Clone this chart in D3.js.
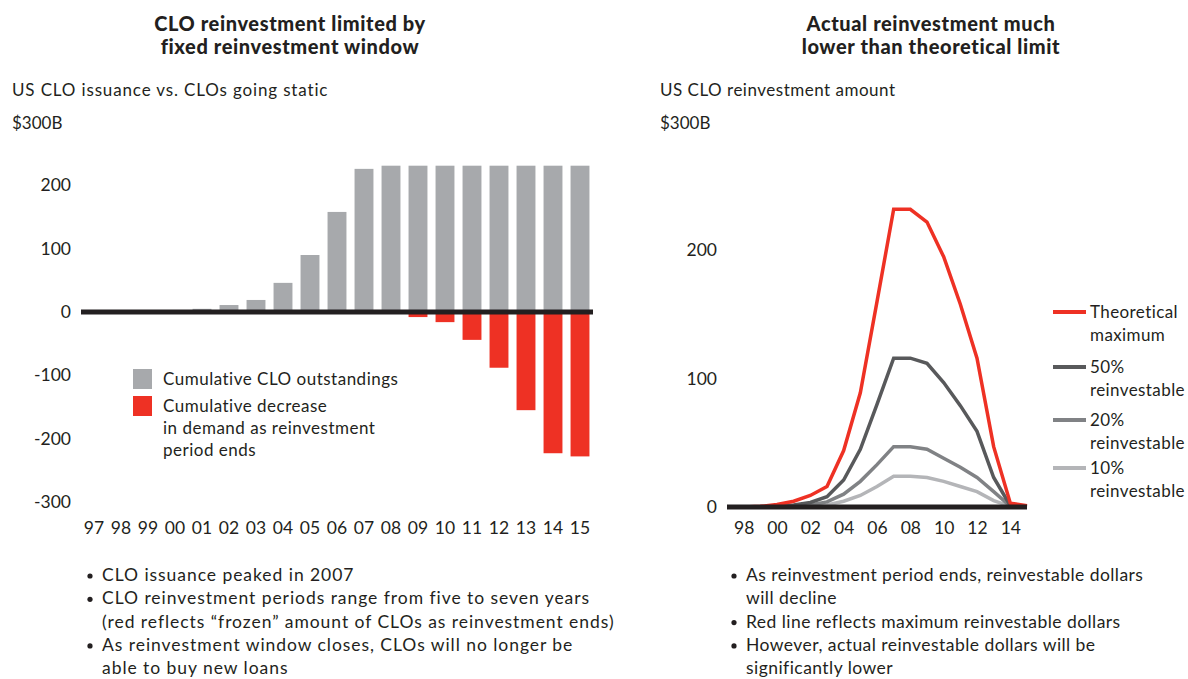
<!DOCTYPE html>
<html>
<head>
<meta charset="utf-8">
<script src="https://cdn.jsdelivr.net/npm/d3@7"></script>
<style>
  body { margin: 0; background: #fff; }
  svg { font-family: Lato, "Open Sans", sans-serif; fill: #231f20; }
  .tick line, .domain { display: none; }
</style>
</head>
<body>
<svg id="chart" width="1188" height="679"></svg>
<script>
// Left panel data
const years = ['97','98','99','00','01','02','03','04','05','06','07','08','09','10','11','12','13','14','15'];
const outstanding = [0, 0, 0, 0, 5, 11, 19, 46, 90, 158, 226, 231, 231, 231, 231, 231, 231, 231, 231];
const decrease = [0, 0, 0, 0, 0, 0, 0, 0, 0, 0, 0, 0, -8, -16, -44, -88, -155, -223, -228];
const leftTicks = [200, 100, 0, -100, -200, -300];

// Right panel data
const theoretical = [0, 0, 0.5, 2, 4.5, 9, 16, 44, 89, 160, 232, 232, 222, 195, 158, 116, 47, 3, 1];
const reinvest50 = [0, 0, 0, 0.5, 1.5, 3.5, 8, 21, 45, 80, 116, 116, 112, 97, 79, 59, 23, 1, 0];
const reinvest20 = [0, 0, 0, 0, 0.5, 1.5, 4, 10, 20, 33, 47, 47, 45, 38, 31, 23, 12, 0.5, 0];
const reinvest10 = [0, 0, 0, 0, 0, 0.5, 1.5, 4.5, 9, 16, 24, 24, 23, 20, 16, 12, 5, 0.5, 0];
const rightTicks = [200, 100, 0];
const rightLabels = ['98','00','02','04','06','08','10','12','14'];

const lineSeries = [
  { name: ['Theoretical', 'maximum'], values: theoretical, color: '#ee3124' },
  { name: ['50%', 'reinvestable'], values: reinvest50, color: '#58595b' },
  { name: ['20%', 'reinvestable'], values: reinvest20, color: '#808285' },
  { name: ['10%', 'reinvestable'], values: reinvest10, color: '#b4b5b8' }
];

const leftBullets = [
  ['CLO issuance peaked in 2007'],
  ['CLO reinvestment periods range from five to seven years',
   '(red reflects \u201cfrozen\u201d amount of CLOs as reinvestment ends)'],
  ['As reinvestment window closes, CLOs will no longer be',
   'able to buy new loans']
];
const rightBullets = [
  ['As reinvestment period ends, reinvestable dollars', 'will decline'],
  ['Red line reflects maximum reinvestable dollars'],
  ['However, actual reinvestable dollars will be', 'significantly lower']
];

const svg = d3.select('#chart');
const textColor = '#231f20';

function title(x, lines) {
  svg.append('text')
    .attr('x', x).attr('y', 31)
    .attr('text-anchor', 'middle')
    .style('font-size', '20px').style('font-weight', 900)
    .style('letter-spacing', '0.6px')
    .selectAll('tspan').data(lines).join('tspan')
    .attr('x', x).attr('dy', (d, i) => i ? 23 : 0)
    .text(d => d);
}

function bullets(x, y0, items, spacing) {
  let y = y0;
  items.forEach(lines => {
    svg.append('circle').attr('cx', x).attr('cy', y - 5).attr('r', 2.6).attr('fill', textColor);
    lines.forEach(line => {
      svg.append('text').attr('x', x + 12).attr('y', y)
        .style('font-size', '17.5px').style('letter-spacing', spacing + 'px').text(line);
      y += 23.3;
    });
  });
}

const tickFmt = d => String(d);

// ---------- Left chart ----------
title(290, ['CLO reinvestment limited by', 'fixed reinvestment window']);
svg.append('text').attr('x', 12).attr('y', 96).style('font-size', '17px')
  .style('letter-spacing', '0.85px')
  .text('US CLO issuance vs. CLOs going static');

const xL = d3.scaleBand().domain(years).range([80.5, 593.5])
  .paddingInner(0.3).paddingOuter(0.15);
const yL = d3.scaleLinear().domain([-300, 300]).range([502, 122]);

svg.append('text').attr('x', 12).attr('y', yL(300) + 7).style('font-size', '17px').text('$300B');

svg.append('g')
  .attr('transform', 'translate(71,0)')
  .call(d3.axisLeft(yL).tickValues(leftTicks).tickFormat(tickFmt).tickSize(0).tickPadding(0))
  .call(g => g.selectAll('text').style('font-size', '17.5px').attr('fill', textColor)
    .attr('font-family', 'Lato, sans-serif'));

svg.append('g').selectAll('rect').data(outstanding).join('rect')
  .attr('x', (d, i) => xL(years[i]))
  .attr('width', xL.bandwidth())
  .attr('y', d => yL(d))
  .attr('height', d => yL(0) - yL(d))
  .attr('fill', '#a7a9ac');

svg.append('g').selectAll('rect').data(decrease).join('rect')
  .attr('x', (d, i) => xL(years[i]))
  .attr('width', xL.bandwidth())
  .attr('y', yL(0))
  .attr('height', d => yL(d) - yL(0))
  .attr('fill', '#ee3124');

svg.append('line')
  .attr('x1', 81).attr('x2', 593)
  .attr('y1', yL(0)).attr('y2', yL(0))
  .attr('stroke', textColor).attr('stroke-width', 5);

svg.append('g')
  .attr('transform', 'translate(0,522)')
  .call(d3.axisBottom(xL).tickSize(0).tickPadding(0))
  .call(g => g.selectAll('text').style('font-size', '17.5px').attr('fill', textColor)
    .attr('font-family', 'Lato, sans-serif'));

// legend
svg.append('rect').attr('x', 133).attr('y', 369).attr('width', 19).attr('height', 20).attr('fill', '#a7a9ac');
svg.append('text').attr('x', 163).attr('y', 385).style('font-size', '17px')
  .style('letter-spacing', '0.5px').text('Cumulative CLO outstandings');
svg.append('rect').attr('x', 133).attr('y', 396).attr('width', 19).attr('height', 20).attr('fill', '#ee3124');
['Cumulative decrease', 'in demand as reinvestment', 'period ends'].forEach((t, i) => {
  svg.append('text').attr('x', 163).attr('y', 412 + i * 22).style('font-size', '17px')
    .style('letter-spacing', '0.5px').text(t);
});

bullets(90, 581, leftBullets, 0.95);

// ---------- Right chart ----------
title(931, ['Actual reinvestment much', 'lower than theoretical limit']);
svg.append('text').attr('x', 660).attr('y', 96).style('font-size', '17px')
  .style('letter-spacing', '0.5px')
  .text('US CLO reinvestment amount');

const xR = d3.scalePoint().domain(years).range([727, 1027]);
const yR = d3.scaleLinear().domain([0, 300]).range([507, 122]);

svg.append('text').attr('x', 660).attr('y', yR(300) + 7).style('font-size', '17px').text('$300B');

svg.append('g')
  .attr('transform', 'translate(717,0)')
  .call(d3.axisLeft(yR).tickValues(rightTicks).tickFormat(tickFmt).tickSize(0).tickPadding(0))
  .call(g => g.selectAll('text').style('font-size', '17.5px').attr('fill', textColor)
    .attr('font-family', 'Lato, sans-serif'));

const line = d3.line().x((d, i) => xR(years[i])).y(d => yR(d));

svg.append('g').selectAll('path').data(lineSeries.slice().reverse()).join('path')
  .attr('d', d => line(d.values))
  .attr('fill', 'none')
  .attr('stroke', d => d.color)
  .attr('stroke-width', 3.5)
  .attr('stroke-linejoin', 'miter');

svg.append('line')
  .attr('x1', 727).attr('x2', 1027)
  .attr('y1', yR(0)).attr('y2', yR(0))
  .attr('stroke', textColor).attr('stroke-width', 5);

svg.append('g')
  .attr('transform', 'translate(0,522)')
  .call(d3.axisBottom(xR).tickValues(rightLabels).tickSize(0).tickPadding(0))
  .call(g => g.selectAll('text').style('font-size', '17.5px').attr('fill', textColor)
    .attr('font-family', 'Lato, sans-serif'));

// legend
const legendY = [312, 367, 420, 468];
lineSeries.forEach((s, i) => {
  const y = legendY[i];
  svg.append('line').attr('x1', 1053).attr('x2', 1086).attr('y1', y).attr('y2', y)
    .attr('stroke', s.color).attr('stroke-width', 4);
  s.name.forEach((t, j) => {
    svg.append('text').attr('x', 1090).attr('y', y + 6 + j * 23)
      .style('font-size', '17px').style('letter-spacing', '0.4px').text(t);
  });
});

bullets(734, 581, rightBullets, 0.45);
</script>
</body>
</html>
